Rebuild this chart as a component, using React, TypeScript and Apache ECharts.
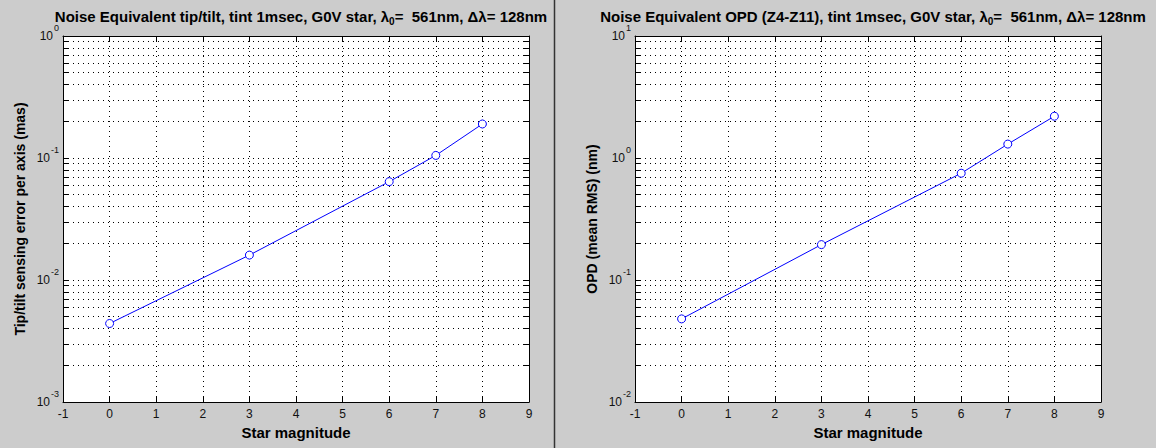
import React, { useEffect, useRef } from "react";
import * as echarts from "echarts";

// ---- data ----
const magnitudes = [0, 3, 6, 7, 8];
const tipTiltMas = [0.0044, 0.016, 0.064, 0.105, 0.19];
const opdNm = [0.048, 0.195, 0.75, 1.3, 2.2];
const xMin = -1;
const xMax = 9;
const leftDecades = [0.001, 0.01, 0.1, 1];
const rightDecades = [0.01, 0.1, 1, 10];
const leftTitle = "Noise Equivalent tip/tilt, tint 1msec, G0V star, ";
const rightTitle = "Noise Equivalent OPD (Z4-Z11), tint 1msec, G0V star, ";
const titleTail = "=  561nm, Δλ= 128nm";
const leftYName = "Tip/tilt sensing error per axis (mas)";
const rightYName = "OPD (mean RMS) (nm)";
const xName = "Star magnitude";

const FONT = "'Liberation Sans', Arial, Helvetica, sans-serif";

function logTicks(decades: number[]) {
  const out: number[] = [];
  for (let i = 0; i < decades.length - 1; i++) {
    for (let k = 1; k <= 9; k++) out.push(Number((k * decades[i]).toPrecision(6)));
  }
  out.push(decades[decades.length - 1]);
  return out;
}

const dotted = { color: "#000", width: 1, type: [1, 4] as any };

function yAxes(gridIndex: number, decades: number[], name: string) {
  const ticks = logTicks(decades);
  const base: any = {
    type: "log",
    logBase: 10,
    min: decades[0],
    max: decades[decades.length - 1],
    gridIndex,
    axisLine: { show: true, onZero: false, lineStyle: { color: "#000", width: 1 } },
    axisTick: { show: true, inside: true, length: 5, customValues: ticks, lineStyle: { color: "#000", width: 1 } },
  };
  return [
    {
      ...base,
      position: "left",
      name,
      nameLocation: "middle",
      nameGap: 36,
      nameTextStyle: { color: "#000", fontFamily: FONT, fontWeight: "bold", fontSize: 14 },
      axisLabel: {
        customValues: decades,
        margin: 4,
        color: "#000",
        fontFamily: FONT,
        formatter: (v: number) => "{b|10}{s|" + Math.round(Math.log10(v)) + "}",
        rich: {
          b: { fontSize: 12, lineHeight: 26, fontFamily: FONT, color: "#111" },
          s: { fontSize: 9, verticalAlign: "top", fontFamily: FONT, color: "#111", padding: [0, 0, 0, 1] },
        },
      },
      splitLine: { show: true, lineStyle: dotted },
    },
    { ...base, position: "right", axisLabel: { show: false }, splitLine: { show: false } },
  ];
}

function xAxes(gridIndex: number) {
  const base: any = {
    type: "value",
    min: xMin,
    max: xMax,
    interval: 1,
    gridIndex,
    axisLine: { show: true, onZero: false, lineStyle: { color: "#000", width: 1 } },
    axisTick: { show: true, inside: true, length: 5, lineStyle: { color: "#000", width: 1 } },
  };
  return [
    {
      ...base,
      position: "bottom",
      name: xName,
      nameLocation: "middle",
      nameGap: 23,
      nameTextStyle: { color: "#000", fontFamily: FONT, fontWeight: "bold", fontSize: 15 },
      axisLabel: { color: "#111", fontFamily: FONT, fontSize: 12, margin: 6 },
      splitLine: { show: true, lineStyle: dotted },
    },
    { ...base, position: "top", axisLabel: { show: false }, splitLine: { show: false } },
  ];
}

function title(text: string, center: number) {
  return {
    text: "{t|" + text + "λ}{sub|0}{t|" + titleTail + "}",
    left: center,
    top: 1,
    textAlign: "center",
    textStyle: {
      rich: {
        t: { fontFamily: FONT, fontWeight: "bold", fontSize: 15, color: "#000", lineHeight: 20 },
        sub: { fontFamily: FONT, fontWeight: "bold", fontSize: 10, color: "#000", verticalAlign: "bottom" },
      },
    },
  };
}

function series(xAxisIndex: number, yAxisIndex: number, values: number[]) {
  return {
    type: "line",
    xAxisIndex,
    yAxisIndex,
    data: magnitudes.map((m, i) => [m, values[i]]),
    symbol: "circle",
    symbolSize: 8,
    lineStyle: { color: "#0000ff", width: 1 },
    itemStyle: { color: "#ffffff", borderColor: "#0000ff", borderWidth: 1 },
  };
}

export default function App() {
  const ref = useRef<HTMLDivElement>(null);
  useEffect(() => {
    if (!ref.current) return;
    const chart = echarts.init(ref.current, undefined, { renderer: "svg" });
    const gridBase = { top: 36, height: 366, width: 466, show: true, backgroundColor: "#fff", borderWidth: 0, containLabel: false };
    chart.setOption({
      animation: false,
      backgroundColor: "#cccccc",
      title: [title(leftTitle, 296), title(rightTitle, 868)],
      grid: [
        { ...gridBase, left: 63 },
        { ...gridBase, left: 635 },
      ],
      xAxis: [...xAxes(0), ...xAxes(1)],
      yAxis: [...yAxes(0, leftDecades, leftYName), ...yAxes(1, rightDecades, rightYName)],
      series: [series(0, 0, tipTiltMas), series(2, 2, opdNm)],
      graphic: [
        {
          type: "line",
          shape: { x1: 554.5, y1: 0, x2: 554.5, y2: 448 },
          style: { stroke: "#333", lineWidth: 1.5 },
          silent: true,
        },
      ],
    });
    return () => chart.dispose();
  }, []);
  return (
    <div
      ref={ref}
      style={{ position: "absolute", left: 0, top: 0, width: 1156, height: 448 }}
    />
  );
}
